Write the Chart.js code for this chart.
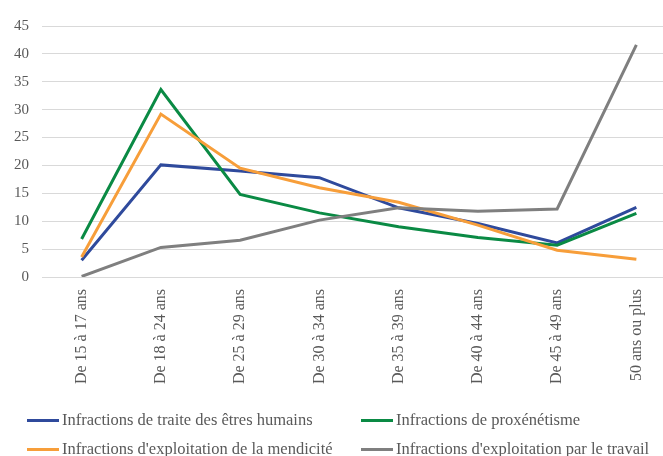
<!DOCTYPE html>
<html><head><meta charset="utf-8">
<script src="https://cdn.jsdelivr.net/npm/chart.js@4"></script>
<style>
html,body{margin:0;padding:0;background:#fff;overflow:hidden;width:663px;height:456px;position:relative;}
#wrap{position:absolute;left:0;top:0;width:676px;height:392px;}
#legend{position:absolute;left:0;top:0;width:663px;height:456px;font-family:"Liberation Serif",serif;font-size:16.5px;color:#595959;}
.item{position:absolute;white-space:nowrap;line-height:20px;height:20px;}
.swatch{display:inline-block;width:32px;height:3px;vertical-align:middle;margin-right:3px;position:relative;top:-1px;}
</style></head><body>
<div id="wrap"><canvas id="c" width="676" height="392"></canvas></div>
<div id="legend"></div>
<script>
const categories = ["De 15 à 17 ans","De 18 à 24 ans","De 25 à 29 ans","De 30 à 34 ans","De 35 à 39 ans","De 40 à 44 ans","De 45 à 49 ans","50 ans ou plus"];
const traite = [3.0, 20.1, 19.0, 17.8, 12.4, 9.6, 6.1, 12.5];
const proxenetisme = [6.8, 33.6, 14.8, 11.5, 9.0, 7.1, 5.7, 11.4];
const mendicite = [3.6, 29.2, 19.5, 16.0, 13.4, 9.3, 4.8, 3.2];
const travail = [0.1, 5.3, 6.6, 10.2, 12.4, 11.8, 12.2, 41.6];
const seriesNames = ["Infractions de traite des êtres humains","Infractions de proxénétisme","Infractions d'exploitation de la mendicité","Infractions d'exploitation par le travail"];
const seriesColors = ["#2F4A9C","#0A8A44","#F79E3A","#7F7F7F"];
const yMin = 0, yMax = 45, yStep = 5;

const seriesData = [traite, proxenetisme, mendicite, travail];
const FONT = "'Liberation Serif', serif";

new Chart(document.getElementById('c'), {
  type: 'line',
  data: {
    labels: categories,
    datasets: seriesData.map((d, i) => ({
      label: seriesNames[i],
      data: d,
      borderColor: seriesColors[i],
      backgroundColor: seriesColors[i],
      borderWidth: 3,
      pointRadius: 0,
      tension: 0,
      fill: false,
      order: 3 - i
    }))
  },
  options: {
    responsive: false,
    animation: false,
    layout: { padding: { top: 26, left: 0, right: 0, bottom: 0 } },
    plugins: { legend: { display: false }, tooltip: { enabled: false } },
    scales: {
      x: {
        offset: true,
        grid: { display: false, offset: true },
        border: { display: false },
        ticks: { color: '#595959', font: { family: FONT, size: 16 }, maxRotation: 90, minRotation: 90, padding: 4 },
        afterFit: (s) => { s.height = 115; }
      },
      y: {
        min: yMin, max: yMax,
        grid: { color: '#D9D9D9', lineWidth: 1, drawTicks: false },
        border: { display: false },
        ticks: { stepSize: yStep, color: '#595959', font: { family: FONT, size: 15 }, padding: 13 },
        afterFit: (s) => { s.width = 42; }
      }
    }
  }
});

const lg = document.getElementById('legend');
const pos = [[27,410],[361,410],[27,439],[361,439]];
seriesNames.forEach((n, i) => {
  const d = document.createElement('div');
  d.className = 'item';
  d.style.left = pos[i][0] + 'px';
  d.style.top = pos[i][1] + 'px';
  const sw = document.createElement('span');
  sw.className = 'swatch';
  sw.style.background = seriesColors[i];
  d.appendChild(sw);
  d.appendChild(document.createTextNode(n));
  lg.appendChild(d);
});
</script>
</body></html>
